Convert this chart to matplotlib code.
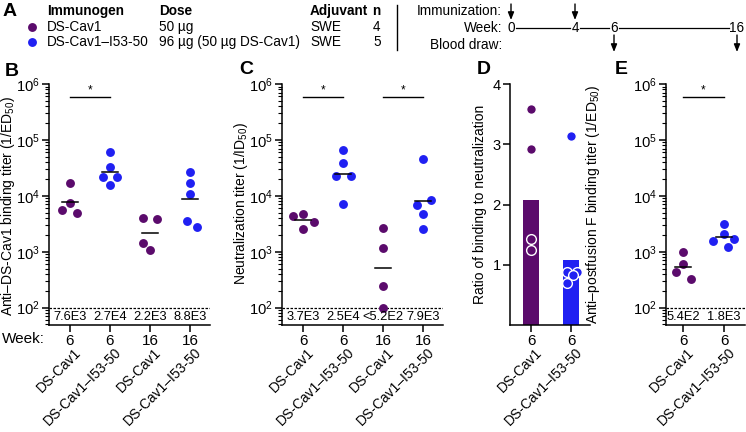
import numpy as np
import matplotlib
matplotlib.use('Agg')
import matplotlib.pyplot as plt
from matplotlib.ticker import LogLocator, NullFormatter, FixedLocator

plt.rcParams['font.family'] = ['Liberation Sans', 'DejaVu Sans']
plt.rcParams['mathtext.fontset'] = 'custom'
plt.rcParams['mathtext.rm'] = 'Liberation Sans'
plt.rcParams['mathtext.it'] = 'Liberation Sans:italic'
plt.rcParams['mathtext.bf'] = 'Liberation Sans:bold'
plt.rcParams['font.size'] = 10

# --- data ---
PURPLE = '#5b0b6c'
BLUE = '#2020f2'

groups = ['DS-Cav1', 'DS-Cav1\u2013I53-50']

# Panel B: anti-DS-Cav1 binding titer (1/ED50)
b_weeks = ['6', '6', '16', '16']
b_names = ['DS-Cav1', 'DS-Cav1\u2013I53-50', 'DS-Cav1', 'DS-Cav1\u2013I53-50']
b_cav1_w6 = [1.69e4, 7.4e3, 5.5e3, 4.9e3]
b_np_w6 = [6.0e4, 3.3e4, 2.15e4, 2.15e4, 1.57e4]
b_cav1_w16 = [4.0e3, 3.9e3, 1.43e3, 1.06e3]
b_np_w16 = [2.7e4, 1.73e4, 1.1e4, 3.6e3, 2.8e3]
b_gmt_labels = ['7.6E3', '2.7E4', '2.2E3', '8.8E3']

# Panel C: neutralization titer (1/ID50)
c_weeks = ['6', '6', '16', '16']
c_names = b_names
c_cav1_w6 = [4.4e3, 4.8e3, 3.4e3, 2.5e3]
c_np_w6 = [6.6e4, 3.9e4, 2.3e4, 2.3e4, 7.1e3]
c_cav1_w16 = [2.65e3, 1.16e3, 240, 99]
c_np_w16 = [4.6e4, 6.9e3, 8.5e3, 4.7e3, 2.5e3]
c_gmt_labels = ['3.7E3', '2.5E4', '<5.2E2', '7.9E3']

# Panel D: ratio of binding to neutralization (week 6)
d_weeks = ['6', '6']
d_cav1 = [3.58, 2.92, 1.42, 1.25]
d_np = [3.14, 0.88, 0.88, 0.83, 0.70]

# Panel E: anti-postfusion F binding titer (1/ED50)
e_weeks = ['6', '6']
e_cav1 = [990, 610, 435, 330]
e_np = [3.16e3, 2.07e3, 1.53e3, 1.71e3, 1.24e3]
e_gmt_labels = ['5.4E2', '1.8E3']

# horizontal jitter of the dots (category units)
b_jit = [[0, 0, -0.19, 0.17], [0, 0, -0.17, 0.17, 0], [-0.17, 0.18, -0.17, 0], [0, 0, 0, -0.08, 0.18]]
c_jit = [[-0.25, 0, 0.27, 0], [0, 0, -0.18, 0.19, 0], [0, 0, 0, 0], [0, -0.16, 0.2, 0, 0]]
d_jit = [[0, 0, 0, 0], [0, -0.1, 0.15, 0.05, -0.1]]
e_jit = [[0, 0, -0.16, 0.19], [0, 0, -0.26, 0.25, 0.1]]

W, H = 746, 432
fig = plt.figure(figsize=(W / 100, H / 100), dpi=100)

FS = 9.8        # header text
TFS = 10.6      # tick labels
CFS = 10        # rotated category labels
YFS = 10        # y-axis titles


def add_ax(l, t, r, b):
    return fig.add_axes([l / W, 1 - b / H, (r - l) / W, (b - t) / H])


def ftext(x, y, s, **kw):
    return fig.text(x / W, 1 - y / H, s, **kw)


def gmean(v):
    return 10 ** np.mean(np.log10(v))


def style(ax):
    for s in ['top', 'right']:
        ax.spines[s].set_visible(False)
    for s in ['left', 'bottom']:
        ax.spines[s].set_linewidth(1.1)
    ax.tick_params(which='major', length=5, width=1.1, pad=1.5, labelsize=TFS)
    ax.tick_params(which='minor', length=3, width=0.8)


def cat_labels(ax, names):
    for i, n in enumerate(names):
        ax.text(i + 0.1, -0.085, n, rotation=45, ha='right', va='top', rotation_mode='anchor',
                transform=ax.get_xaxis_transform(), fontsize=CFS)


def log_panel(ax, series, colors, jit, weeks, names, gmt_labels, xlim):
    ax.set_yscale('log')
    ax.set_ylim(10 ** 1.69, 1e6)
    ax.set_xlim(*xlim)
    ax.yaxis.set_major_locator(LogLocator(base=10, numticks=10))
    ax.yaxis.set_minor_locator(LogLocator(base=10, subs=np.arange(2, 10), numticks=20))
    ax.yaxis.set_minor_formatter(NullFormatter())
    style(ax)
    for i, (vals, col, jj) in enumerate(zip(series, colors, jit)):
        ax.plot(np.array(jj) + i, vals, 'o', color=col, ms=6.4, mec='none', zorder=3)
        g = gmean(vals)
        ax.plot([i - 0.2, i + 0.2], [g, g], color='k', lw=1.1, zorder=4)
        ax.text(i, 10 ** 1.83, gmt_labels[i], ha='center', va='center', fontsize=9.3)
    ax.axhline(100, color='k', lw=0.9, ls=(0, (2, 1.2)))
    ax.set_xticks(range(len(series)))
    ax.set_xticklabels(weeks, fontsize=11)
    cat_labels(ax, names)


def sig(ax, x0, x1, y):
    ax.plot([x0, x1], [y, y], color='k', lw=1)
    ax.text((x0 + x1) / 2, y * 1.02, '*', ha='center', va='bottom', fontsize=8.5)


# --- Panel A ---
ftext(3, 11, 'A', fontsize=14, fontweight='bold', va='center')
ftext(47, 11, 'Immunogen', fontweight='bold', va='center', fontsize=FS)
ftext(159, 11, 'Dose', fontweight='bold', va='center', fontsize=FS)
ftext(310, 11, 'Adjuvant', fontweight='bold', va='center', fontsize=FS)
ftext(372, 11, 'n', fontweight='bold', va='center', fontsize=FS)
rows = [('DS-Cav1', '50 \u00b5g', 'SWE', '4', PURPLE),
        ('DS-Cav1\u2013I53-50', '96 \u00b5g (50 \u00b5g DS-Cav1)', 'SWE', '5', BLUE)]
overlay = fig.add_axes([0, 0, 1, 1], facecolor='none')
overlay.set_xlim(0, W)
overlay.set_ylim(H, 0)
overlay.axis('off')
for k, (nm, dose, adj, n, col) in enumerate(rows):
    y = 27 + 15 * k
    overlay.plot(32, y, 'o', color=col, ms=6.4, mec='none')
    ftext(47, y, nm, va='center', fontsize=FS)
    ftext(159, y, dose, va='center', fontsize=FS)
    ftext(310, y, adj, va='center', fontsize=FS)
    ftext(373, y, n, va='center', fontsize=FS)
overlay.plot([397, 397], [5, 50], color='k', lw=1)

# timeline
ftext(502, 11, 'Immunization:', ha='right', va='center', fontsize=FS)
ftext(502, 28, 'Week:', ha='right', va='center', fontsize=FS)
ftext(502, 45, 'Blood draw:', ha='right', va='center', fontsize=FS)
tl_weeks = ['0', '4', '6', '16']
tl_x = [511, 575, 614, 737]
tl_half = [4, 4, 4, 7]
for s, x in zip(tl_weeks, tl_x):
    ftext(x, 28, s, ha='center', va='center', fontsize=FS)
for i in range(3):
    overlay.plot([tl_x[i] + tl_half[i] + 1, tl_x[i + 1] - tl_half[i + 1] - 1], [28, 28], color='k', lw=0.9)
arrow = dict(arrowstyle='-|>,head_length=0.45,head_width=0.18', color='k', lw=1,
             shrinkA=0, shrinkB=0)
for x in tl_x[:2]:
    overlay.annotate('', xy=(x, 20), xytext=(x, 4), arrowprops=arrow)
for x in tl_x[2:]:
    overlay.annotate('', xy=(x, 52), xytext=(x, 35), arrowprops=arrow)

# --- Panel B ---
axB = add_ax(49, 84, 210, 325)
log_panel(axB, [b_cav1_w6, b_np_w6, b_cav1_w16, b_np_w16], [PURPLE, BLUE, PURPLE, BLUE],
          b_jit, b_weeks, b_names, b_gmt_labels, (-0.525, 3.5))
sig(axB, 0, 1, 5.86e5)
ftext(8, 206, 'Anti\u2013DS-Cav1 binding titer (1/ED$_{50}$)', rotation=90, ha='center', va='center', fontsize=YFS)
ftext(5, 71, 'B', fontsize=14, fontweight='bold', va='center')
ftext(2, 339, 'Week:', va='center', fontsize=11)

# --- Panel C ---
axC = add_ax(282, 84, 443, 325)
log_panel(axC, [c_cav1_w6, c_np_w6, c_cav1_w16, c_np_w16], [PURPLE, BLUE, PURPLE, BLUE],
          c_jit, c_weeks, c_names, c_gmt_labels, (-0.525, 3.5))
sig(axC, 0, 1, 5.86e5)
sig(axC, 2, 3, 5.86e5)
ftext(241, 204, 'Neutralization titer (1/ID$_{50}$)', rotation=90, ha='center', va='center', fontsize=YFS)
ftext(239, 70, 'C', fontsize=14, fontweight='bold', va='center')

# --- Panel D ---
axD = add_ax(510, 84, 590, 325)
axD.set_ylim(0, 4)
axD.set_xlim(-0.525, 1.475)
style(axD)
axD.yaxis.set_major_locator(FixedLocator([1, 2, 3, 4]))
for i, (vals, col, jj) in enumerate(zip([d_cav1, d_np], [PURPLE, BLUE], d_jit)):
    axD.bar(i, gmean(vals), width=0.38, color=col, zorder=1)
    axD.plot(np.array(jj) + i, vals, 'o', color=col, ms=7, mec='white', mew=1, zorder=3)
axD.set_xticks([0, 1])
axD.set_xticklabels(d_weeks, fontsize=11)
cat_labels(axD, groups)
ftext(480, 204, 'Ratio of binding to neutralization', rotation=90, ha='center', va='center', fontsize=YFS)
ftext(477, 70, 'D', fontsize=14, fontweight='bold', va='center')

# --- Panel E ---
axE = add_ax(666, 84, 745, 325)
log_panel(axE, [e_cav1, e_np], [PURPLE, BLUE], e_jit, e_weeks, groups, e_gmt_labels, (-0.415, 1.51))
sig(axE, 0, 1, 5.86e5)
ftext(593, 204, 'Anti\u2013postfusion F binding titer (1/ED$_{50}$)', rotation=90, ha='center', va='center', fontsize=YFS)
ftext(615, 70, 'E', fontsize=14, fontweight='bold', va='center')

fig.savefig('out.png', dpi=100)
